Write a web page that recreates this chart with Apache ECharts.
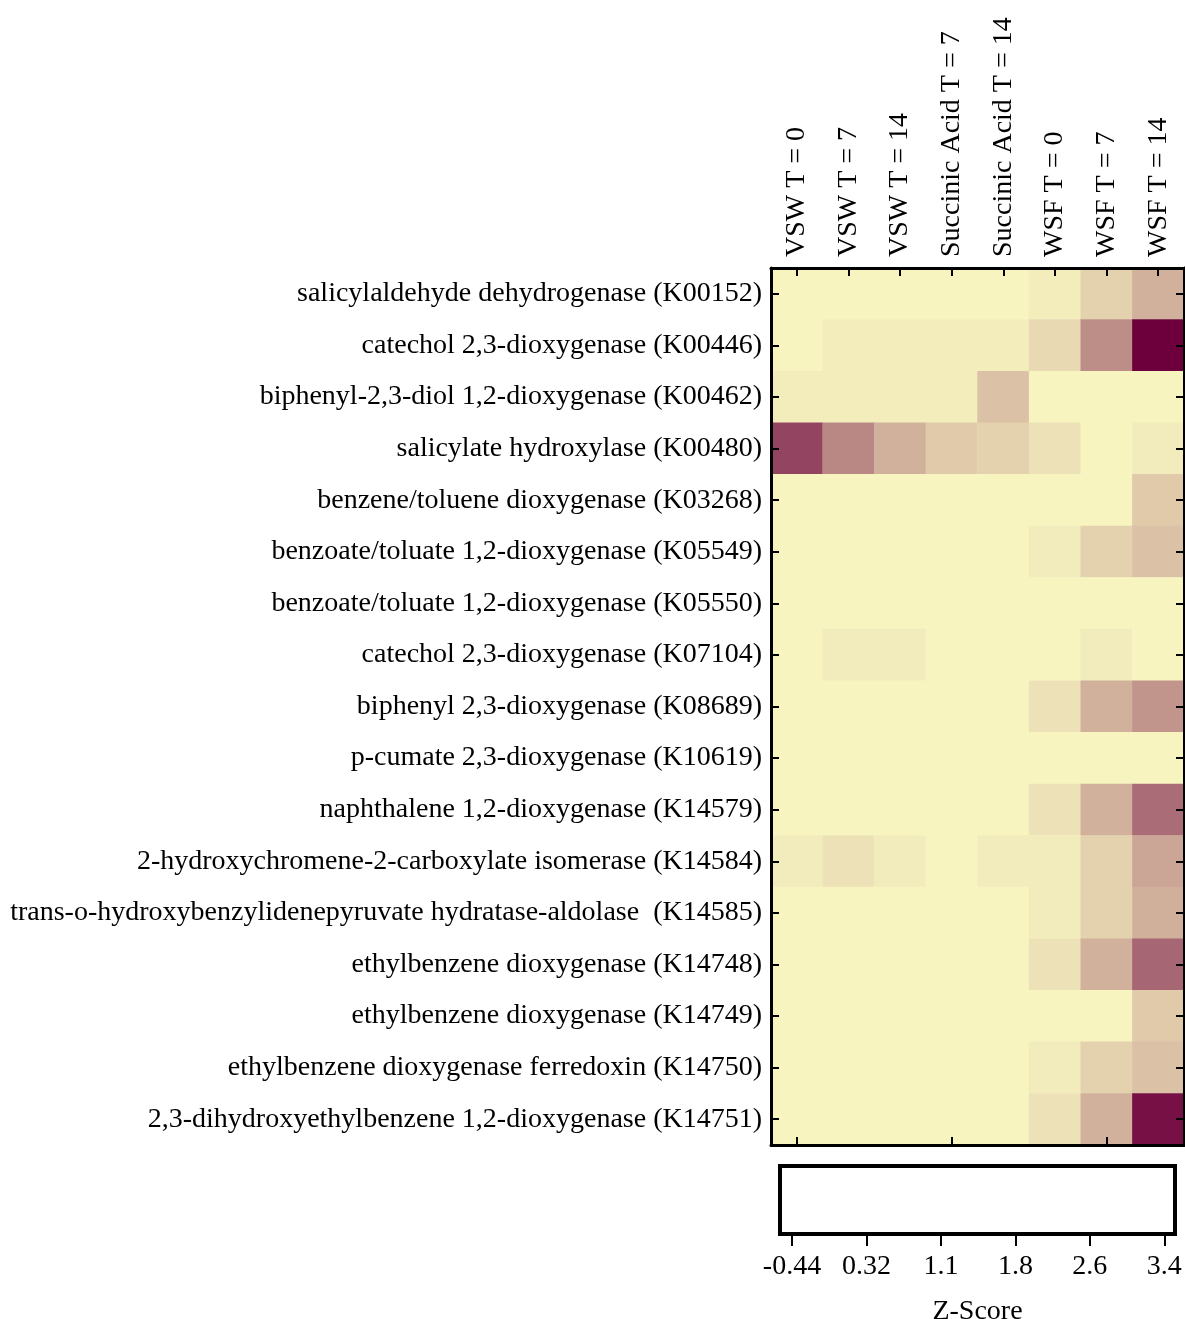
<!DOCTYPE html>
<html>
<head>
<meta charset="utf-8">
<script src="https://cdn.jsdelivr.net/npm/echarts@6/dist/echarts.min.js"></script>
<style>
  html, body { margin: 0; padding: 0; background: #fff; }
  #chart { width: 1185px; height: 1319px; }
</style>
</head>
<body>
<div id="chart"></div>
<script>
// Sample columns (treatment and time point)
const samples = ['VSW T = 0', 'VSW T = 7', 'VSW T = 14', 'Succinic Acid T = 7', 'Succinic Acid T = 14', 'WSF T = 0', 'WSF T = 7', 'WSF T = 14'];

// Gene rows, top to bottom
const genes = [
  'salicylaldehyde dehydrogenase (K00152)',
  'catechol 2,3-dioxygenase (K00446)',
  'biphenyl-2,3-diol 1,2-dioxygenase (K00462)',
  'salicylate hydroxylase (K00480)',
  'benzene/toluene dioxygenase (K03268)',
  'benzoate/toluate 1,2-dioxygenase (K05549)',
  'benzoate/toluate 1,2-dioxygenase (K05550)',
  'catechol 2,3-dioxygenase (K07104)',
  'biphenyl 2,3-dioxygenase (K08689)',
  'p-cumate 2,3-dioxygenase (K10619)',
  'naphthalene 1,2-dioxygenase (K14579)',
  '2-hydroxychromene-2-carboxylate isomerase (K14584)',
  'trans-o-hydroxybenzylidenepyruvate hydratase-aldolase  (K14585)',
  'ethylbenzene dioxygenase (K14748)',
  'ethylbenzene dioxygenase (K14749)',
  'ethylbenzene dioxygenase ferredoxin (K14750)',
  '2,3-dihydroxyethylbenzene 1,2-dioxygenase (K14751)'
];

// Z-scores, one row per gene, one value per sample
const zScores = [
  [-0.44, -0.44, -0.44, -0.44, -0.44, -0.32, 0.14, 0.77],
  [-0.44, -0.32, -0.32, -0.32, -0.32, 0.02, 1.48, 3.40],
  [-0.32, -0.32, -0.32, -0.32, 0.44, -0.44, -0.44, -0.44],
  [2.59, 1.58, 0.77, 0.28, 0.14, -0.13, -0.44, -0.30],
  [-0.44, -0.44, -0.44, -0.44, -0.44, -0.44, -0.44, 0.28],
  [-0.44, -0.44, -0.44, -0.44, -0.44, -0.30, 0.14, 0.44],
  [-0.44, -0.44, -0.44, -0.44, -0.44, -0.44, -0.44, -0.44],
  [-0.44, -0.30, -0.30, -0.44, -0.44, -0.44, -0.30, -0.44],
  [-0.44, -0.44, -0.44, -0.44, -0.44, -0.13, 0.77, 1.33],
  [-0.44, -0.44, -0.44, -0.44, -0.44, -0.44, -0.44, -0.44],
  [-0.44, -0.44, -0.44, -0.44, -0.44, -0.13, 0.77, 2.00],
  [-0.30, -0.13, -0.30, -0.44, -0.30, -0.30, 0.14, 1.00],
  [-0.44, -0.44, -0.44, -0.44, -0.44, -0.30, 0.14, 0.80],
  [-0.44, -0.44, -0.44, -0.44, -0.44, -0.13, 0.77, 2.10],
  [-0.44, -0.44, -0.44, -0.44, -0.44, -0.44, -0.44, 0.28],
  [-0.44, -0.44, -0.44, -0.44, -0.44, -0.30, 0.14, 0.44],
  [-0.44, -0.44, -0.44, -0.44, -0.44, -0.13, 0.77, 3.21]
];

// Colour scale range and its tick labels
const zMin = -0.44;
const zMax = 3.4;
const scaleTickValues = [-0.44, 0.328, 1.096, 1.864, 2.632, 3.4];
const scaleTickLabels = ['-0.44', '0.32', '1.1', '1.8', '2.6', '3.4'];

const FONT = 'Liberation Serif';
const FONT_SIZE = 28;

const cells = [];
zScores.forEach((row, r) => row.forEach((v, c) => cells.push([c, r, v])));

const chart = echarts.init(document.getElementById('chart'));

const catTick = { show: true, inside: true, alignWithLabel: true, length: 8, lineStyle: { color: '#000', width: 2 } };
const frameLine = { show: true, lineStyle: { color: '#000', width: 3 } };

chart.setOption({
  backgroundColor: '#fff',
  animation: false,
  grid: [
    { left: 771, top: 268, width: 413, height: 877, containLabel: false, outerBoundsMode: 'none' },
    { left: 780, top: 1166, width: 395, height: 68, containLabel: false, outerBoundsMode: 'none',
      show: true, backgroundColor: '#fff', borderColor: '#000', borderWidth: 4 }
  ],
  xAxis: [
    {
      type: 'category', data: samples, gridIndex: 0, position: 'top', z: 10,
      axisLine: frameLine, axisTick: catTick, splitLine: { show: false },
      axisLabel: { interval: 0, rotate: -90, margin: 11, color: '#000', fontFamily: FONT, fontSize: FONT_SIZE }
    },
    {
      type: 'category', data: samples, gridIndex: 0, position: 'bottom', z: 10,
      axisLine: frameLine, axisTick: catTick, axisLabel: { show: false }, splitLine: { show: false }
    },
    {
      type: 'value', gridIndex: 1, position: 'bottom', min: -0.564, max: 3.51,
      axisLine: { show: false }, splitLine: { show: false },
      axisTick: { show: true, customValues: scaleTickValues, length: 12, lineStyle: { color: '#000', width: 2 } },
      axisLabel: {
        customValues: scaleTickValues, margin: 19, color: '#000', fontFamily: FONT, fontSize: FONT_SIZE,
        formatter: (v) => scaleTickLabels[scaleTickValues.indexOf(v)]
      },
      name: 'Z-Score', nameLocation: 'middle', nameGap: 64,
      nameTextStyle: { color: '#000', fontFamily: FONT, fontSize: FONT_SIZE }
    }
  ],
  yAxis: [
    {
      type: 'category', data: genes, gridIndex: 0, inverse: true, position: 'left', z: 10,
      axisLine: frameLine, axisTick: catTick, splitLine: { show: false },
      axisLabel: { interval: 0, margin: 9, color: '#000', fontFamily: FONT, fontSize: FONT_SIZE }
    },
    {
      type: 'category', data: genes, gridIndex: 0, inverse: true, position: 'right', z: 10,
      axisLine: frameLine, axisTick: catTick, axisLabel: { show: false }, splitLine: { show: false }
    },
    {
      type: 'value', gridIndex: 1, min: 0, max: 1, show: false
    }
  ],
  visualMap: {
    show: false,
    type: 'continuous',
    seriesIndex: 0,
    min: zMin,
    max: zMax,
    inRange: { color: ['#f7f4c0', '#d8bca3', '#bd8e88', '#9a5068', '#6d003c'] }
  },
  series: [
    {
      type: 'heatmap',
      xAxisIndex: 0,
      yAxisIndex: 0,
      data: cells,
      z: 2,
      itemStyle: { borderWidth: 0 },
      emphasis: { disabled: true }
    }
  ]
});
</script>
</body>
</html>
